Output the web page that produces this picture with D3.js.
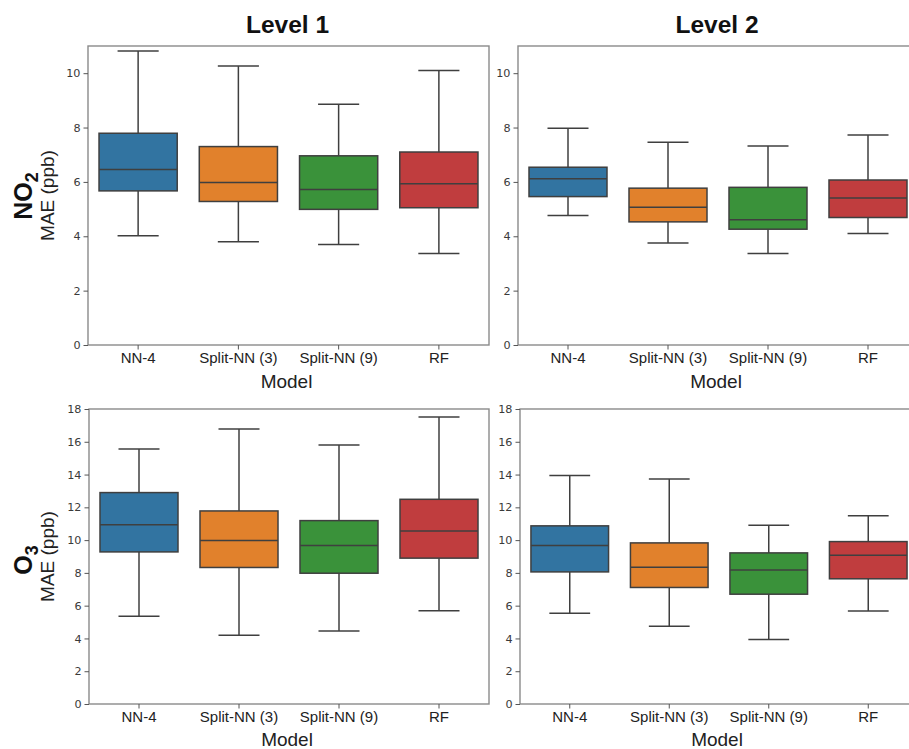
<!DOCTYPE html>
<html>
<head>
<meta charset="utf-8">
<script src="https://cdn.jsdelivr.net/npm/d3@7"></script>
<style>
  html, body { margin: 0; padding: 0; background: #fff; }
  svg { display: block; }
</style>
</head>
<body>
<svg id="chart" width="909" height="749"></svg>
<script>
// Models along the x axis
const models = ["NN-4", "Split-NN (3)", "Split-NN (9)", "RF"];
const modelColors = ["#3274a1", "#e1812c", "#3a923a", "#c03d3e"];

// Box statistics per model: [lower whisker, Q1, median, Q3, upper whisker]
const no2Level1 = [
  [4.02, 5.67, 6.46, 7.79, 10.82],
  [3.80, 5.28, 5.98, 7.30, 10.26],
  [3.70, 4.99, 5.72, 6.96, 8.86],
  [3.37, 5.05, 5.93, 7.10, 10.10]
];
const no2Level2 = [
  [4.76, 5.46, 6.12, 6.54, 7.97],
  [3.75, 4.53, 5.07, 5.77, 7.46],
  [3.37, 4.26, 4.61, 5.80, 7.32],
  [4.10, 4.69, 5.41, 6.07, 7.73]
];
const o3Level1 = [
  [5.36, 9.28, 10.93, 12.90, 15.56],
  [4.20, 8.33, 9.97, 11.78, 16.78],
  [4.45, 7.98, 9.67, 11.19, 15.80],
  [5.69, 8.90, 10.56, 12.49, 17.51]
];
const o3Level2 = [
  [5.54, 8.06, 9.67, 10.87, 13.95],
  [4.75, 7.11, 8.35, 9.83, 13.73],
  [3.94, 6.70, 8.18, 9.22, 10.91],
  [5.67, 7.64, 9.08, 9.91, 11.49]
];

// Axis ranges and tick values for each pollutant row
const no2Domain = [0, 11];
const no2Ticks = [0, 2, 4, 6, 8, 10];
const o3Domain = [0, 18];
const o3Ticks = [0, 2, 4, 6, 8, 10, 12, 14, 16, 18];

const columnTitles = ["Level 1", "Level 2"];
const axisLabelX = "Model";
const axisLabelY = "MAE (ppb)";

const svg = d3.select("#chart");
const sans = "Liberation Sans, Arial, sans-serif";

const panels = [
  { stats: no2Level1, domain: no2Domain, ticks: no2Ticks, x0: 88,  x1: 489, y0: 46,  y1: 345, yLabel: true,  xTitleY: 388 },
  { stats: no2Level2, domain: no2Domain, ticks: no2Ticks, x0: 518, x1: 918, y0: 46,  y1: 345, yLabel: false, xTitleY: 388 },
  { stats: o3Level1,  domain: o3Domain,  ticks: o3Ticks,  x0: 89,  x1: 489, y0: 409, y1: 704, yLabel: true,  xTitleY: 746 },
  { stats: o3Level2,  domain: o3Domain,  ticks: o3Ticks,  x0: 520, x1: 918, y0: 409, y1: 704, yLabel: false, xTitleY: 746 }
];

const lineColor = "#3f3f3f";
const frameColor = "#8a8a8a";

panels.forEach(p => {
  const x = d3.scaleBand().domain(models).range([p.x0, p.x1]).padding(0);
  const y = d3.scaleLinear().domain(p.domain).range([p.y1, p.y0]);
  const g = svg.append("g");

  // Frame
  g.append("rect")
    .attr("x", p.x0).attr("y", p.y0)
    .attr("width", p.x1 - p.x0).attr("height", p.y1 - p.y0)
    .attr("fill", "none").attr("stroke", frameColor).attr("stroke-width", 1.4);

  // Y axis
  const yAxis = g.append("g")
    .attr("transform", `translate(${p.x0},0)`)
    .call(d3.axisLeft(y).tickValues(p.ticks).tickSize(4.5).tickPadding(3).tickFormat(d3.format("d")));
  yAxis.select(".domain").remove();
  yAxis.selectAll("line").attr("stroke", "#555").attr("stroke-width", 1);
  yAxis.selectAll("text")
    .attr("font-family", "DejaVu Sans, sans-serif")
    .attr("font-size", 11.2).attr("fill", "#3a3a3a");

  // X axis
  const xAxis = g.append("g")
    .attr("transform", `translate(0,${p.y1})`)
    .call(d3.axisBottom(x).tickSize(4.5).tickPadding(3));
  xAxis.select(".domain").remove();
  xAxis.selectAll("line").attr("stroke", "#555").attr("stroke-width", 1);
  xAxis.selectAll("text")
    .attr("font-family", sans)
    .attr("font-size", 15).attr("fill", "#222");

  // Boxes
  const bw = x.bandwidth() * 0.78;
  const cw = x.bandwidth() * 0.41;
  const boxes = g.selectAll(".box").data(p.stats).join("g").attr("class", "box");
  boxes.each(function (s, i) {
    const cx = x(models[i]) + x.bandwidth() / 2;
    const bg = d3.select(this);
    const [lo, q1, med, q3, hi] = s;
    const line = (x1, y1, x2, y2) =>
      bg.append("line")
        .attr("x1", x1).attr("y1", y1).attr("x2", x2).attr("y2", y2)
        .attr("stroke", lineColor).attr("stroke-width", 1.5);
    line(cx, y(q3), cx, y(hi));
    line(cx, y(q1), cx, y(lo));
    line(cx - cw / 2, y(hi), cx + cw / 2, y(hi));
    line(cx - cw / 2, y(lo), cx + cw / 2, y(lo));
    bg.append("rect")
      .attr("x", cx - bw / 2).attr("y", y(q3))
      .attr("width", bw).attr("height", y(q1) - y(q3))
      .attr("fill", modelColors[i]).attr("stroke", lineColor).attr("stroke-width", 1.5);
    line(cx - bw / 2, y(med), cx + bw / 2, y(med));
  });

  // X axis title
  g.append("text")
    .attr("x", (p.x0 + p.x1) / 2 - 2).attr("y", p.xTitleY)
    .attr("text-anchor", "middle")
    .attr("font-family", sans)
    .attr("font-size", 19).attr("fill", "#222")
    .text(axisLabelX);

  // Y axis title
  if (p.yLabel) {
    const cy = (p.y0 + p.y1) / 2;
    g.append("text")
      .attr("transform", `translate(54,${cy}) rotate(-90)`)
      .attr("text-anchor", "middle")
      .attr("font-family", sans)
      .attr("font-size", 19).attr("fill", "#222")
      .text(axisLabelY);
  }
});

// Column titles
columnTitles.forEach((t, i) => {
  const p = panels[i];
  svg.append("text")
    .attr("x", (p.x0 + p.x1) / 2 - 1).attr("y", 33)
    .attr("text-anchor", "middle")
    .attr("font-family", sans)
    .attr("font-weight", "bold").attr("font-size", 24.5).attr("fill", "#111")
    .text(t);
});

// Row titles with subscripts (NO2, O3)
const rowTitles = [
  { base: "NO", sub: "2", cy: 196 },
  { base: "O", sub: "3", cy: 560 }
];
rowTitles.forEach(r => {
  const t = svg.append("text")
    .attr("transform", `translate(32,${r.cy}) rotate(-90)`)
    .attr("text-anchor", "middle")
    .attr("font-family", sans)
    .attr("font-weight", "bold").attr("font-size", 25).attr("fill", "#111");
  t.append("tspan").text(r.base);
  t.append("tspan").attr("dy", 6).attr("font-size", 18).text(r.sub);
});
</script>
</body>
</html>
